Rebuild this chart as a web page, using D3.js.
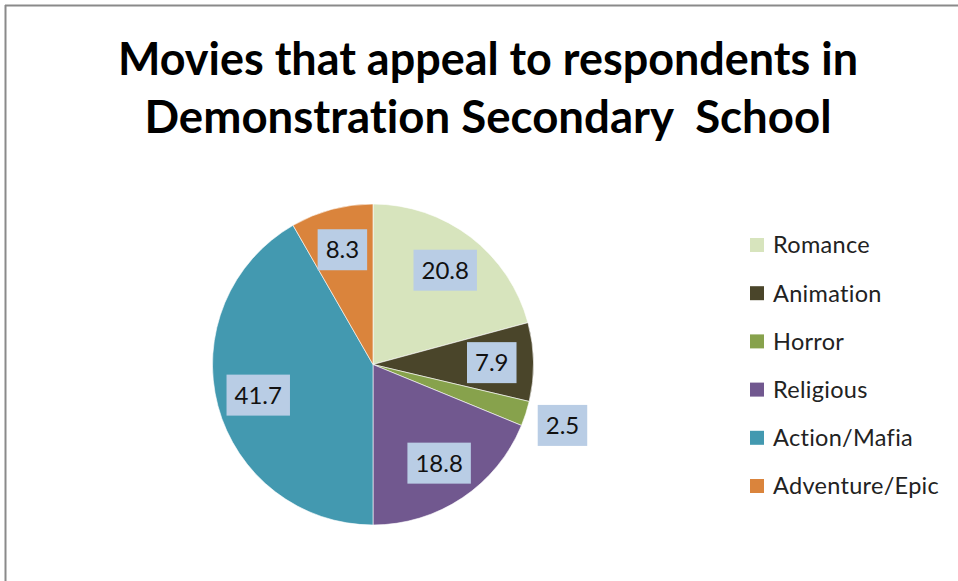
<!DOCTYPE html>
<html>
<head>
<meta charset="utf-8">
<script src="https://cdn.jsdelivr.net/npm/d3@7"></script>
<style>
  html, body { margin: 0; padding: 0; background: #fff; }
  svg { display: block; }
  text { font-variant-ligatures: none; font-feature-settings: "liga" 0; }
</style>
</head>
<body>
<svg id="chart" width="958" height="581"></svg>
<script>
const categories = ["Romance", "Animation", "Horror", "Religious", "Action/Mafia", "Adventure/Epic"];
const values = [20.8, 7.9, 2.5, 18.8, 41.7, 8.3];
const colors = ["#D7E4BD", "#4A452A", "#87A24C", "#71588F", "#4399B0", "#DA843C"];
const titleLines = ["Movies that appeal to respondents in", "Demonstration Secondary  School"];

const svg = d3.select("#chart");
const W = 958, H = 581;

// frame
svg.append("line").attr("x1", 5).attr("x2", W).attr("y1", 5.5).attr("y2", 5.5)
  .attr("stroke", "#8a8a8a").attr("stroke-width", 2);
svg.append("line").attr("x1", 5.5).attr("x2", 5.5).attr("y1", 5).attr("y2", H)
  .attr("stroke", "#8a8a8a").attr("stroke-width", 2);

// title
const titleWidths = [740, 687];
const titleY = [75, 133];
svg.selectAll("text.title").data(titleLines).join("text")
  .attr("class", "title")
  .attr("x", 488).attr("y", (d, i) => titleY[i])
  .attr("text-anchor", "middle")
  .attr("font-family", "Lato, 'Open Sans', sans-serif")
  .attr("font-weight", "bold")
  .attr("font-size", 45)
  .attr("fill", "#000")
  .attr("textLength", (d, i) => titleWidths[i])
  .attr("lengthAdjust", "spacingAndGlyphs")
  .style("white-space", "pre")
  .text(d => d);

// pie
const cx = 373, cy = 364.5, r = 160.5;
const data = categories.map((c, i) => ({ cat: c, value: values[i], color: colors[i] }));
const pie = d3.pie().value(d => d.value).sort(null);
const arcs = pie(data);
const arc = d3.arc().innerRadius(0).outerRadius(r);
const labelArcIn = d3.arc().innerRadius(r * 0.74).outerRadius(r * 0.74);
const labelArcOut = d3.arc().innerRadius(r * 1.24).outerRadius(r * 1.24);

const g = svg.append("g").attr("transform", `translate(${cx},${cy})`);
g.selectAll("path").data(arcs).join("path")
  .attr("d", arc)
  .attr("fill", d => d.data.color)
  .attr("stroke", "#fff")
  .attr("stroke-width", 0.6);

const fmt = d3.format(".1f");
const labels = g.selectAll("g.lab").data(arcs).join("g")
  .attr("class", "lab")
  .attr("transform", d => {
    const p = (d.data.value < 5 ? labelArcOut : labelArcIn).centroid(d);
    return `translate(${p[0]},${p[1]})`;
  });
labels.each(function(d) {
  const sel = d3.select(this);
  const t = sel.append("text")
    .attr("text-anchor", "middle")
    .attr("dy", "0.36em")
    .attr("font-family", "Lato, 'Open Sans', sans-serif")
    .attr("font-size", 24)
    .attr("fill", "#111")
    .text(fmt(d.data.value));
  const bb = t.node().getBBox();
  const padX = 8;
  sel.insert("rect", "text")
    .attr("x", bb.x - padX)
    .attr("y", -20.5)
    .attr("width", bb.width + 2 * padX)
    .attr("height", 41)
    .attr("fill", "#B9CDE5");
});

// legend
const legY0 = 245, legStep = 48.2;
const leg = svg.append("g");
const items = leg.selectAll("g").data(data).join("g")
  .attr("transform", (d, i) => `translate(750,${legY0 + i * legStep})`);
items.append("rect").attr("x", 0).attr("y", -7).attr("width", 14).attr("height", 14)
  .attr("fill", d => d.color);
items.append("text").attr("x", 23).attr("y", 0).attr("dy", "0.36em")
  .attr("font-family", "Lato, 'Open Sans', sans-serif")
  .attr("font-size", 23.5)
  .attr("letter-spacing", 0.3)
  .attr("fill", "#222")
  .text(d => d.cat);
</script>
</body>
</html>
